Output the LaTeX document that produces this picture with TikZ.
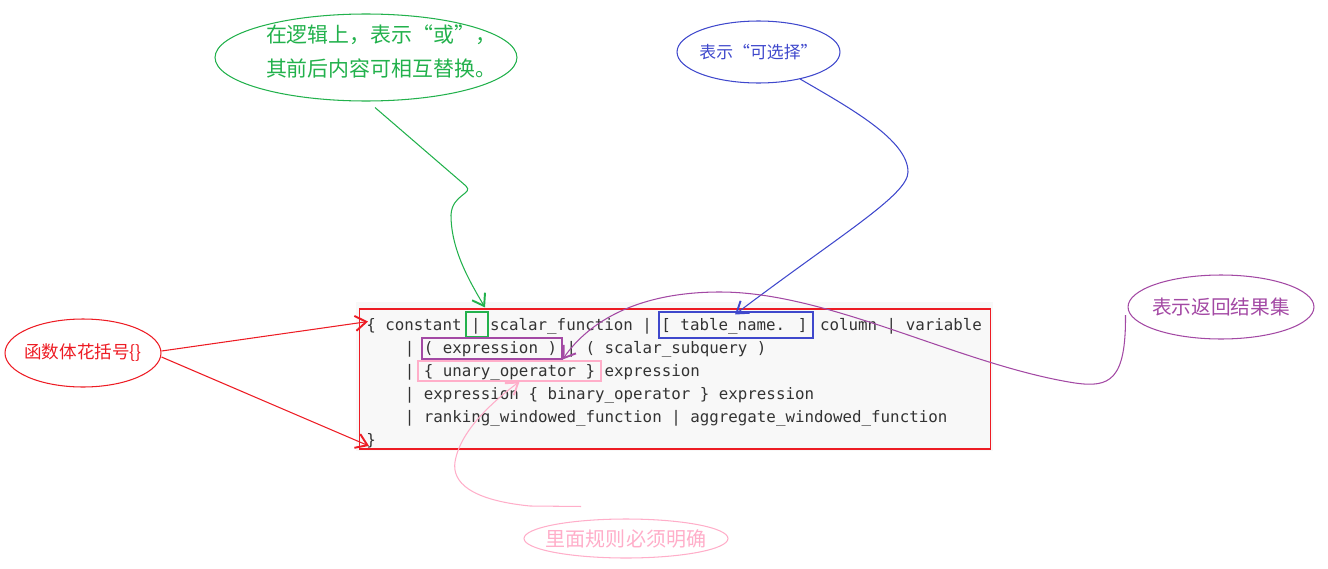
\documentclass[tikz,border=0pt]{standalone}
\usepackage{fontspec}
\newfontfamily\cjk{Noto Sans CJK SC}
\newfontfamily\codefont{DejaVu Sans Mono}
\usetikzlibrary{arrows.meta,calc,shapes.geometric}
\definecolor{ored}{HTML}{ED1C24}
\definecolor{ogreen}{HTML}{22B14C}
\definecolor{oblue}{HTML}{3F48CC}
\definecolor{opurple}{HTML}{A349A4}
\definecolor{opink}{HTML}{FFAEC9}
\definecolor{codebg}{HTML}{F8F8F8}
\definecolor{codetext}{HTML}{333333}
\tikzset{bubble/.style={ellipse,draw=#1,line width=.6pt,inner sep=0pt},hlbox/.style={draw=#1,line width=.6pt,inner sep=0pt},codeline/.style={anchor=base west,inner sep=0pt,font=\codefont\fontsize{9pt}{11pt}\selectfont,text=codetext},pointer/.style={draw=#1,line width=.6pt,-{Straight Barb[length=2.2mm,width=3mm,line width=1.1pt]}}}

\begin{document}
\begin{tikzpicture}[x=0.02cm,y=-0.02cm]
\useasboundingbox (0,0) rectangle (1328,568);
% code panel
\node[fill=codebg,minimum width=12.74cm,minimum height=2.98cm,inner sep=0pt] (panel) at (674.5,376.5) {};
\node[draw=ored,line width=.6pt,minimum width=12.64cm,minimum height=2.8cm,inner sep=0pt] (body) at (675,379) {};
\node[codeline] (ln1) at (366,330) {\{ constant | scalar\_function | [ table\_name. ] column | variable};
\node[codeline] (ln2) at (404.4,353) {| ( expression ) | ( scalar\_subquery )};
\node[codeline] (ln3) at (404.4,376) {| \{ unary\_operator \} expression};
\node[codeline] (ln4) at (404.4,399) {| expression \{ binary\_operator \} expression};
\node[codeline] (ln5) at (404.4,422) {| ranking\_windowed\_function | aggregate\_windowed\_function};
\node[codeline] (ln6) at (366,445) {\}};
\node[hlbox=ogreen,minimum width=.44cm,minimum height=.5cm] (orbox) at (477,324.5) {};
\node[hlbox=oblue,minimum width=3.08cm,minimum height=.52cm] (optbox) at (736,325) {};
\node[hlbox=opurple,minimum width=2.8cm,minimum height=.42cm] (exprbox) at (492,348.5) {};
\node[hlbox=opink,minimum width=3.66cm,minimum height=.4cm] (unarybox) at (509.5,371) {};
% callouts
\node[bubble=ogreen,minimum width=6.04cm,minimum height=1.74cm,label={[xshift=.3cm,yshift=.12cm,align=left,text=ogreen,font=\cjk\fontsize{11.9pt}{19.9pt}\selectfont]center:在逻辑上，表示“或”，\\其前后内容可相互替换。}] (orcall) at (366,57.5) {};
\node[bubble=oblue,minimum width=3.26cm,minimum height=1.24cm,label={[text=oblue,font=\cjk\fontsize{9.6pt}{12pt}\selectfont]center:表示“可选择”}] (optcall) at (758.5,52) {};
\node[bubble=opurple,minimum width=3.72cm,minimum height=1.28cm,label={[text=opurple,font=\cjk\fontsize{11.2pt}{13pt}\selectfont]center:表示返回结果集}] (result) at (1221,307) {};
\node[bubble=ored,minimum width=3.12cm,minimum height=1.36cm,label={[text=ored,font=\cjk\fontsize{10pt}{12pt}\selectfont]center:函数体花括号\{\}}] (brace) at (83,353) {};
\node[bubble=opink,minimum width=4.08cm,minimum height=.78cm,label={[text=opink,font=\cjk\fontsize{11.4pt}{13pt}\selectfont]center:里面规则必须明确}] (rules) at (626,538.5) {};
% pointers
\draw[pointer=ogreen] ($(orcall.south)+(9,6)$) -- (466,186) .. controls (474,194) and (452,194) .. (451,215) .. controls (451,250) and (470,282) .. ($(orbox.north)+(8,-4)$);
\draw[pointer=oblue] (optcall.-33) .. controls (850,108) and (908,140) .. (908,172) .. controls (908,195) and (840,235) .. ($(optbox.north)+(-1,3)$);
\draw[pointer=opurple] ($(result.west)+(-2,8)$) .. controls (1126,380) and (1110,388) .. (1075,383) .. controls (960,365) and (830,292) .. (720,292) .. controls (640,292) and (590,320) .. (exprbox.south east);
\draw[pointer=opink] ($(rules.north)+(-45,-12)$) -- (530,506) .. controls (470,500) and (452,482) .. (455,462) .. controls (460,430) and (495,400) .. ($(unarybox.south)+(10,0)$);
\draw[pointer=ored] ($(brace.east)+(0,-2)$) -- ($(ln1.north west)+(2,4)$);
\draw[pointer=ored] ($(brace.east)+(0,4)$) -- ($(ln6.south west)+(3,-2)$);
\end{tikzpicture}
\end{document}
